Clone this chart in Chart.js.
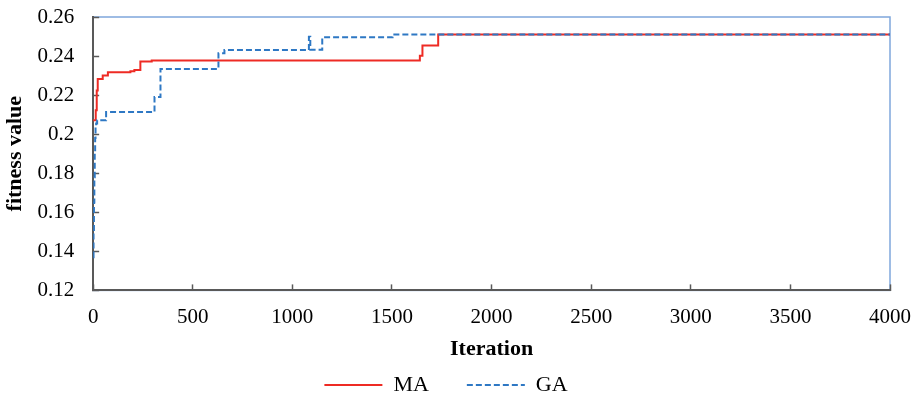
<!DOCTYPE html>
<html>
<head>
<meta charset="utf-8">
<script src="https://cdn.jsdelivr.net/npm/chart.js@4/dist/chart.umd.min.js"></script>
<style>
  html, body { margin: 0; padding: 0; background: #fff; }
  #wrap { width: 918px; height: 398px; }
</style>
</head>
<body>
<div id="wrap"><canvas id="fitnessCtx"></canvas></div>
<script>
// MA (memetic) best fitness per iteration
const maIter = [0, 13, 18, 23, 48, 74, 187, 207, 237, 294, 1640, 1653, 1732, 4000];
const maFit  = [0.2071, 0.2122, 0.2224, 0.2283, 0.2300, 0.2317, 0.2322, 0.2329, 0.2372, 0.2377, 0.2402, 0.2454, 0.2510, 0.2510];

// GA best fitness per iteration
const gaIter = [0, 2, 4, 6, 8, 10, 12, 15, 20, 65, 282, 308, 338, 609, 629, 659, 1083, 1090, 1150, 1503, 4000];
const gaFit  = [0.137, 0.150, 0.165, 0.178, 0.190, 0.198, 0.204, 0.2055, 0.2071, 0.2113, 0.2113, 0.2190, 0.2334, 0.2334, 0.2415, 0.2431, 0.2499, 0.2432, 0.2496, 0.2510, 0.2510];

const xTicks = [0, 500, 1000, 1500, 2000, 2500, 3000, 3500, 4000];
const yTicks = [0.12, 0.14, 0.16, 0.18, 0.2, 0.22, 0.24, 0.26];

const serif = "'Liberation Serif', 'Times New Roman', serif";
const axisColor = '#595959';

function toPoints(xs, ys) {
    return xs.map((x, i) => ({ x: x, y: ys[i] }));
}

// light blue frame round the plot area (left/bottom axes paint over it)
const plotFrame = {
    id: 'plotFrame',
    beforeDraw(chart) {
        const a = chart.chartArea;
        const ctx = chart.ctx;
        ctx.save();
        ctx.strokeStyle = '#7fa7dc';
        ctx.lineWidth = 1.5;
        ctx.strokeRect(a.left, a.top, a.right - a.left, a.bottom - a.top);
        ctx.restore();
    }
};

// no extra room for the end tick labels, the layout padding does it
function noEdgePadding(scale) {
    scale.paddingTop = 0;
    scale.paddingBottom = 0;
    scale.paddingLeft = 0;
    scale.paddingRight = 0;
}

// legend samples take the line's dash and width, not the point's
function lineLegendLabels(chart) {
    const items = Chart.defaults.plugins.legend.labels.generateLabels(chart);
    return items.map(item => {
        const ds = chart.data.datasets[item.datasetIndex];
        item.lineDash = ds.borderDash || [];
        item.lineWidth = ds.borderWidth;
        item.strokeStyle = ds.borderColor;
        return item;
    });
}

new Chart(document.getElementById('fitnessCtx'), {
    type: 'line',
    data: {
        datasets: [{
            label: 'MA',
            data: toPoints(maIter, maFit),
            borderColor: '#ee2b24',
            backgroundColor: '#ee2b24',
            borderWidth: 2,
            stepped: true,
            pointRadius: 0,
            pointStyle: 'line',
            order: 1
        },
        {
            label: 'GA',
            data: toPoints(gaIter, gaFit),
            borderColor: '#2e78c4',
            backgroundColor: '#2e78c4',
            borderWidth: 2,
            borderDash: [6, 3],
            stepped: true,
            pointRadius: 0,
            pointStyle: 'line',
            order: 0
        }]
    },
    options: {
        responsive: true,
        maintainAspectRatio: false,
        animation: false,
        layout: { padding: { top: 17, right: 28, left: 2, bottom: -8 } },
        plugins: {
            tooltip: { enabled: false },
            legend: {
                position: 'bottom',
                labels: {
                    usePointStyle: true,
                    pointStyleWidth: 58,
                    padding: 38,
                    color: '#000',
                    font: { family: serif, size: 22 },
                    generateLabels: lineLegendLabels,
                    sort: (a, b) => a.datasetIndex - b.datasetIndex
                }
            }
        },
        scales: {
            x: {
                type: 'linear',
                min: 0,
                max: 4000,
                afterBuildTicks: axis => { axis.ticks = xTicks.map(v => ({ value: v })); },
                afterFit: noEdgePadding,
                border: { color: axisColor, width: 2 },
                grid: { drawOnChartArea: false, color: axisColor, tickLength: -6, tickWidth: 1.5 },
                ticks: {
                    color: '#000',
                    padding: 20,
                    maxRotation: 0,
                    font: { family: serif, size: 21 },
                    callback: v => String(v)
                },
                title: { display: true, text: 'Iteration', color: '#000', padding: { top: -13, bottom: -27 },
                         font: { family: serif, size: 22, weight: 'bold' } }
            },
            y: {
                min: 0.12,
                max: 0.26,
                afterBuildTicks: axis => { axis.ticks = yTicks.map(v => ({ value: v })); },
                afterFit: noEdgePadding,
                border: { color: axisColor, width: 2 },
                grid: { drawOnChartArea: false, color: axisColor, tickLength: -6, tickWidth: 1.5 },
                ticks: {
                    color: '#000',
                    padding: 25,
                    font: { family: serif, size: 21 },
                    callback: v => String(+v.toFixed(2))
                },
                title: { display: true, text: 'fitness value', color: '#000', padding: { top: 0, bottom: -16 },
                         font: { family: serif, size: 22, weight: 'bold' } }
            }
        }
    },
    plugins: [plotFrame]
});
</script>
</body>
</html>
